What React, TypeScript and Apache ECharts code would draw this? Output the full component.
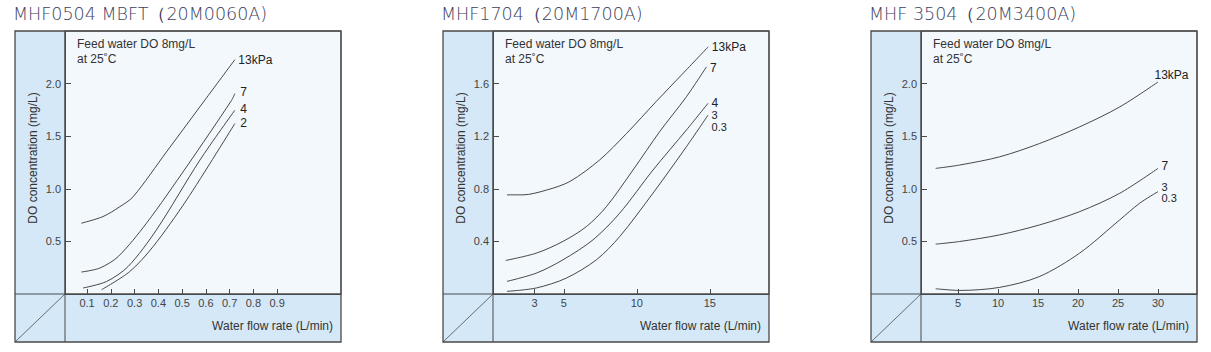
import React, { useEffect, useRef } from 'react';
import * as echarts from 'echarts';

// ---------- Titles ----------
const titles = ['MHF0504 MBFT（20M0060A)', 'MHF1704（20M1700A)', 'MHF 3504（20M3400A)'];

// ---------- Axis ticks ----------
const xTicks1 = [0.1, 0.2, 0.3, 0.4, 0.5, 0.6, 0.7, 0.8, 0.9];
const xTicks2 = [3, 5, 10, 15];
const xTicks3 = [5, 10, 15, 20, 25, 30];
const yTicks1 = [0.5, 1.0, 1.5, 2.0];
const yTicks2 = [0.4, 0.8, 1.2, 1.6];
const yTicks3 = [0.5, 1.0, 1.5, 2.0];

// ---------- Panel 1: MHF0504 (x: L/min, y: mg/L) ----------
const p1_13kPa: [number, number][] = [[0.076, 0.673], [0.167, 0.736], [0.238, 0.83], [0.294, 0.925], [0.434, 1.35], [0.603, 1.865], [0.722, 2.227]];
const p1_7: [number, number][] = [[0.076, 0.209], [0.153, 0.246], [0.231, 0.356], [0.35, 0.673], [0.519, 1.21], [0.708, 1.84], [0.722, 1.905]];
const p1_4: [number, number][] = [[0.083, 0.057], [0.182, 0.119], [0.273, 0.262], [0.392, 0.61], [0.575, 1.273], [0.722, 1.747]];
const p1_2: [number, number][] = [[0.161, 0.041], [0.28, 0.214], [0.378, 0.451], [0.519, 0.894], [0.722, 1.62]];

// ---------- Panel 2: MHF1704 ----------
const p2_13kPa: [number, number][] = [[1.1, 0.754], [2.2, 0.754], [3.8, 0.79], [5.4, 0.855], [7.46, 1.02], [9.29, 1.22], [11.34, 1.465], [13.1, 1.67], [14.9, 1.88]];
const p2_7: [number, number][] = [[1.01, 0.255], [3.12, 0.311], [4.94, 0.4], [6.55, 0.513], [7.92, 0.665], [9.74, 0.943], [11.57, 1.235], [13.4, 1.5], [14.77, 1.727]];
const p2_4: [number, number][] = [[1.1, 0.096], [3.12, 0.159], [4.94, 0.26], [7.0, 0.412], [8.83, 0.615], [11.11, 0.943], [13.4, 1.247], [14.88, 1.45]];
const p2_3: [number, number][] = [[1.1, 0.02], [3.12, 0.046], [5.17, 0.121], [7.23, 0.26], [8.83, 0.437], [11.11, 0.767], [13.4, 1.12], [14.88, 1.36]];

// ---------- Panel 3: MHF3504 ----------
const p3_13kPa: [number, number][] = [[2.21, 1.194], [5.21, 1.226], [10.21, 1.304], [15.21, 1.431], [20.21, 1.589], [25.21, 1.778], [30, 2.015]];
const p3_7: [number, number][] = [[2.21, 0.474], [5.21, 0.499], [10.21, 0.562], [15.21, 0.657], [20.21, 0.783], [25.21, 0.957], [30, 1.194]];
const p3_3: [number, number][] = [[2.21, 0.05], [5.21, 0.034], [10.21, 0.063], [15.21, 0.167], [20.21, 0.389], [25.21, 0.704], [27.71, 0.863], [30, 0.973]];

const FONT = 'Liberation Sans, Arial, sans-serif';
const LINE = '#333';
const BORDER = '#4a4a4a';
const STRIP = '#d5e8f8';
const PLOT = '#f3f8fd';

type Curve = { data: [number, number][]; label: string; offset: [number, number]; lh: number; fs: number };

const panels = [
  {
    outerLeft: 15, gridLeft: 65, xMin: 0.007, xMax: 1.169, yMax: 2.5,
    xTicks: xTicks1, yTicks: yTicks1, xFmt: (v: number) => v.toFixed(1),
    curves: [
      { data: p1_13kPa, label: '13kPa', offset: [0, 0], lh: 14, fs: 12 },
      { data: p1_7, label: '7', offset: [2, -2], lh: 14, fs: 12 },
      { data: p1_4, label: '4', offset: [2, -1], lh: 14, fs: 12 },
      { data: p1_2, label: '2', offset: [2, -1], lh: 14, fs: 12 },
    ] as Curve[],
  },
  {
    outerLeft: 443, gridLeft: 493, xMin: 0.144, xMax: 19.06, yMax: 2.0,
    xTicks: xTicks2, yTicks: yTicks2, xFmt: (v: number) => String(v),
    curves: [
      { data: p2_13kPa, label: '13kPa', offset: [0, 0], lh: 14, fs: 12 },
      { data: p2_7, label: '7', offset: [0, 1], lh: 14, fs: 12 },
      { data: p2_4, label: '4', offset: [0, 0], lh: 14, fs: 12 },
      { data: p2_3, label: '3\n0.3', offset: [0, 6], lh: 12, fs: 11 },
    ] as Curve[],
  },
  {
    outerLeft: 871, gridLeft: 921, xMin: 0.375, xMax: 34.875, yMax: 2.5,
    xTicks: xTicks3, yTicks: yTicks3, xFmt: (v: number) => String(v),
    curves: [
      { data: p3_13kPa, label: '13kPa', offset: [-7, -7], lh: 14, fs: 12 },
      { data: p3_7, label: '7', offset: [0, -2], lh: 14, fs: 12 },
      { data: p3_3, label: '3\n0.3', offset: [0, 1], lh: 11.5, fs: 11 },
    ] as Curve[],
  },
];

const GRID_TOP = 31;
const GRID_W = 276;
const GRID_H = 263;
const BOTTOM = 342;

function buildOption() {
  const grid: any[] = [];
  const xAxis: any[] = [];
  const yAxis: any[] = [];
  const series: any[] = [];
  const graphic: any[] = [];

  panels.forEach((p, i) => {
    const axisY = GRID_TOP + GRID_H;
    grid.push({
      left: p.gridLeft, top: GRID_TOP, width: GRID_W, height: GRID_H,
      show: true, backgroundColor: PLOT, borderColor: BORDER, borderWidth: 1,
    });
    xAxis.push({
      type: 'value', gridIndex: i, min: p.xMin, max: p.xMax,
      axisLine: { show: true, lineStyle: { color: BORDER, width: 1 } },
      axisTick: { show: true, inside: true, length: 5, customValues: p.xTicks, lineStyle: { color: BORDER } },
      axisLabel: { show: true, customValues: p.xTicks, formatter: p.xFmt, margin: 3, fontSize: 11, color: '#444', fontFamily: FONT },
      splitLine: { show: false },
    });
    yAxis.push({
      type: 'value', gridIndex: i, min: 0, max: p.yMax,
      name: 'DO concentration (mg/L)', nameLocation: 'middle', nameGap: 26, nameRotate: 90,
      nameTextStyle: { fontSize: 12, color: '#333', fontFamily: FONT, padding: [0, 0, 0, 9] },
      axisLine: { show: true, lineStyle: { color: BORDER, width: 1 } },
      axisTick: { show: true, inside: true, length: 6, customValues: p.yTicks, lineStyle: { color: BORDER } },
      axisLabel: { show: true, customValues: p.yTicks, formatter: (v: number) => v.toFixed(1), margin: 4, fontSize: 11, color: '#444', fontFamily: FONT },
      splitLine: { show: false },
    });

    p.curves.forEach((c) => {
      const last = c.data[c.data.length - 1];
      series.push({
        type: 'line', xAxisIndex: i, yAxisIndex: i, data: c.data,
        smooth: 0.3, symbol: 'none', silent: true,
        lineStyle: { color: LINE, width: 0.9 },
        markPoint: {
          symbol: 'circle', symbolSize: 1, silent: true,
          itemStyle: { color: 'rgba(0,0,0,0)' },
          data: [{
            coord: last, name: c.label,
            label: {
              show: true, position: 'right', distance: 3, formatter: '{b}', offset: c.offset,
              fontSize: c.fs, lineHeight: c.lh, color: '#222', fontFamily: FONT, align: 'left',
            },
          }],
        },
      });
    });

    const gx = p.gridLeft;
    const ox = p.outerLeft;
    const right = gx + GRID_W;
    graphic.push(
      { type: 'rect', z: -5, shape: { x: ox, y: GRID_TOP, width: gx - ox, height: BOTTOM - GRID_TOP }, style: { fill: STRIP } },
      { type: 'rect', z: -5, shape: { x: gx, y: axisY, width: GRID_W, height: BOTTOM - axisY }, style: { fill: STRIP } },
      { type: 'line', z: 50, shape: { x1: ox, y1: axisY, x2: right, y2: axisY }, style: { stroke: BORDER, lineWidth: 1 } },
      { type: 'line', z: 50, shape: { x1: gx, y1: GRID_TOP, x2: gx, y2: BOTTOM }, style: { stroke: BORDER, lineWidth: 1 } },
      { type: 'line', z: 50, shape: { x1: ox, y1: BOTTOM, x2: gx, y2: axisY }, style: { stroke: BORDER, lineWidth: 0.8 } },
      { type: 'rect', z: 60, shape: { x: ox, y: GRID_TOP, width: right - ox, height: BOTTOM - GRID_TOP }, style: { fill: 'none', stroke: BORDER, lineWidth: 1.3 } },
      {
        type: 'text', z: 60, x: ox - 2, y: 14,
        style: { text: titles[i], fontSize: 17.5, fontWeight: 200, fontFamily: 'DejaVu Sans, sans-serif', fill: '#3e3e5c', align: 'left', verticalAlign: 'middle', textAlign: 'left', textVerticalAlign: 'middle' },
      },
      {
        type: 'text', z: 60, x: gx + 12, y: 36,
        style: { text: 'Feed water DO 8mg/L\nat 25˚C', fontSize: 12, lineHeight: 15, fontFamily: FONT, fill: '#333', align: 'left', verticalAlign: 'top', textAlign: 'left', textVerticalAlign: 'top' },
      },
      {
        type: 'text', z: 60, x: right - 8, y: 326,
        style: { text: 'Water flow rate (L/min)', fontSize: 12, fontFamily: FONT, fill: '#333', align: 'right', verticalAlign: 'middle', textAlign: 'right', textVerticalAlign: 'middle' },
      },
    );
  });

  return {
    animation: false,
    backgroundColor: '#ffffff',
    grid, xAxis, yAxis, series, graphic,
  };
}

export default function App() {
  const ref = useRef<HTMLDivElement>(null);
  useEffect(() => {
    if (!ref.current) return;
    const chart = echarts.init(ref.current, null, { renderer: 'svg' });
    chart.setOption(buildOption() as any);
    return () => chart.dispose();
  }, []);
  return (
    <div
      ref={ref}
      style={{ position: 'absolute', left: 0, top: 0, width: 1211, height: 352, background: '#fff' }}
    />
  );
}
